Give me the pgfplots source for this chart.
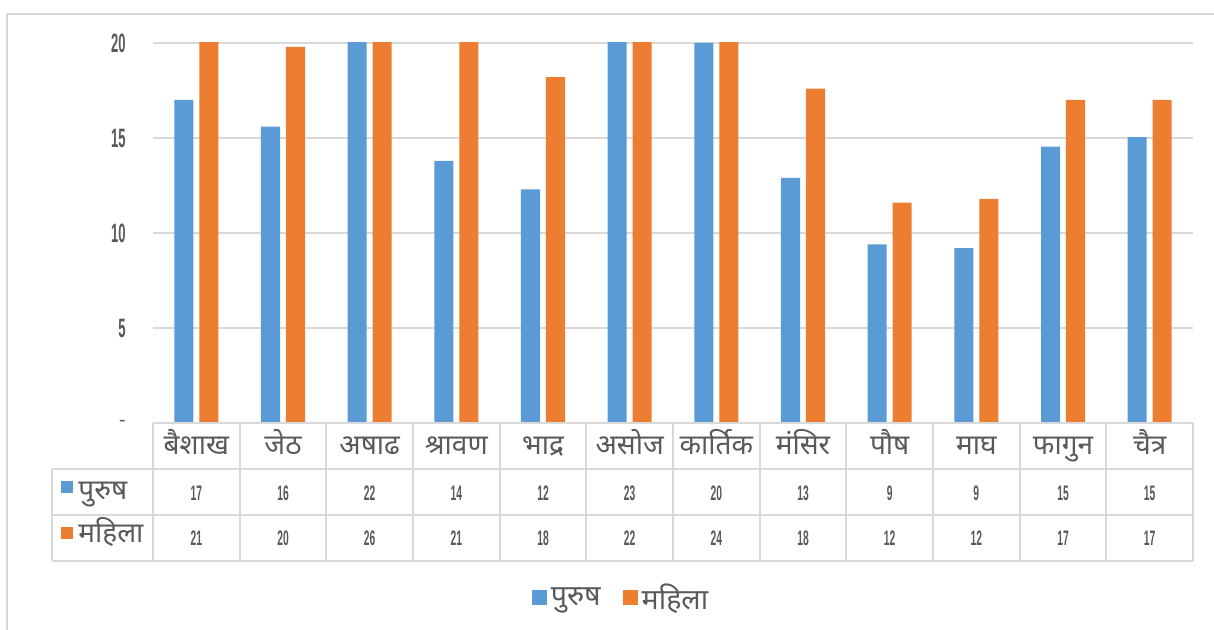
\documentclass[border=0pt]{standalone}
\usepackage{pgfplots}
\pgfplotsset{compat=1.18}
\usepackage{pgfplotstable}
\usepackage{fontspec}
\setmainfont{Noto Sans}
\newfontfamily\dev[Script=Devanagari]{Noto Sans}
\newfontfamily\numf{Liberation Sans}
\definecolor{cblue}{HTML}{5B9BD5}
\definecolor{corange}{HTML}{ED7D31}
\definecolor{txt}{HTML}{595959}
\definecolor{gridc}{HTML}{D9D9D9}
\newcommand\dg[2][13.3]{{\numf\bfseries\fontsize{#1}{#1}\selectfont\scalebox{0.49}[1]{#2}}}

\pgfplotstableread{
x blue orange
0 17.0 21
1 15.6 19.8
2 22 26
3 13.8 21
4 12.3 18.2
5 23 22
6 20 24
7 12.9 17.6
8 9.4 11.6
9 9.2 11.8
10 14.55 17
11 15.05 17
}\data

\begin{document}
\begin{tikzpicture}
\path[use as bounding box] (0,0) rectangle (607pt,315pt);
\draw[gridc, line width=1pt] (3.5pt,-2pt) -- (3.5pt,308pt) -- (610pt,308pt);

% bars
\begin{axis}[
  at={(76.5pt,103.5pt)}, anchor=south west,
  scale only axis, width=520pt, height=190pt,
  xmin=-0.5, xmax=11.5, ymin=0, ymax=20,
  axis line style={draw=none},
  ytick={0,5,10,15,20},
  yticklabels={-,\dg{5},\dg{10},\dg{15},\dg{20}},
  ymajorgrids, grid style={gridc, line width=0.75pt},
  major tick length=0pt,
  xtick={0,...,11},
  xticklabels={बैशाख,जेठ,अषाढ,श्रावण,भाद्र,असोज,कार्तिक,मंसिर,पौष,माघ,फागुन,चैत्र},
  xticklabel style={font=\dev\fontsize{14}{16}\selectfont, text=txt, anchor=base, yshift=-16pt, inner sep=0pt},
  yticklabel style={text=txt, anchor=east, inner sep=0pt, xshift=-13.5pt},
  bar width=0.22, clip=true,
  legend columns=2,
  legend style={at={(0.451,-0.46)}, anchor=center, draw=none, fill=none,
    font=\dev\fontsize{14.3}{16}\selectfont, text=txt,
    /tikz/every even column/.append style={column sep=9pt}},
  legend image code/.code={\fill[#1] (0pt,-3.75pt) rectangle (7.5pt,3.75pt);},
]
\addplot[ybar, bar shift=-0.144, fill=cblue, draw=none, forget plot] table[x=x,y=blue]{\data};
\addplot[ybar, bar shift=0.144, fill=corange, draw=none, forget plot] table[x=x,y=orange]{\data};
\addlegendimage{fill=cblue, draw=none}
\addlegendentry{पुरुष}
\addlegendimage{fill=corange, draw=none}
\addlegendentry{महिला}
\end{axis}

% data table
\begin{axis}[
  at={(76.5pt,103.5pt)}, anchor=south west,
  scale only axis, width=520pt, height=190pt,
  xmin=-0.5, xmax=11.5, ymin=0, ymax=20,
  axis lines=none, xtick=\empty, ytick=\empty, clip=false,
  nodes near coords={\dg[10.5]{\pgfmathprintnumber[fixed,precision=0,assume math mode=true]{\pgfplotspointmeta}}},
  nodes near coords align=center,
  nodes near coords style={anchor=center, text=txt, inner sep=0pt},
]
\draw[gridc, line width=1pt] (axis cs:-0.5,0) -- (axis cs:11.5,0);
\draw[gridc, line width=1pt] (axis cs:-1.665,-2.42) -- (axis cs:11.5,-2.42);
\draw[gridc, line width=1pt] (axis cs:-1.665,-4.84) -- (axis cs:11.5,-4.84);
\draw[gridc, line width=1pt] (axis cs:-1.665,-7.26) -- (axis cs:11.5,-7.26);
\draw[gridc, line width=1pt] (axis cs:-1.665,-2.42) -- (axis cs:-1.665,-7.26);
\draw[gridc, line width=1pt] (axis cs:-0.5,0) -- (axis cs:-0.5,-7.26);
\draw[gridc, line width=1pt] (axis cs:0.5,0) -- (axis cs:0.5,-7.26);
\draw[gridc, line width=1pt] (axis cs:1.5,0) -- (axis cs:1.5,-7.26);
\draw[gridc, line width=1pt] (axis cs:2.5,0) -- (axis cs:2.5,-7.26);
\draw[gridc, line width=1pt] (axis cs:3.5,0) -- (axis cs:3.5,-7.26);
\draw[gridc, line width=1pt] (axis cs:4.5,0) -- (axis cs:4.5,-7.26);
\draw[gridc, line width=1pt] (axis cs:5.5,0) -- (axis cs:5.5,-7.26);
\draw[gridc, line width=1pt] (axis cs:6.5,0) -- (axis cs:6.5,-7.26);
\draw[gridc, line width=1pt] (axis cs:7.5,0) -- (axis cs:7.5,-7.26);
\draw[gridc, line width=1pt] (axis cs:8.5,0) -- (axis cs:8.5,-7.26);
\draw[gridc, line width=1pt] (axis cs:9.5,0) -- (axis cs:9.5,-7.26);
\draw[gridc, line width=1pt] (axis cs:10.5,0) -- (axis cs:10.5,-7.26);
\draw[gridc, line width=1pt] (axis cs:11.5,0) -- (axis cs:11.5,-7.26);
\addplot[draw=none, point meta=\thisrow{blue}] table[x=x, y expr=-3.68]{\data};
\addplot[draw=none, point meta=\thisrow{orange}] table[x=x, y expr=-6.05]{\data};
\end{axis}

% row headers of the data table
\fill[cblue] (30.5pt,68.5pt) rectangle (36.5pt,74.5pt);
\node[anchor=base west, inner sep=0pt, text=txt, font=\dev\fontsize{14}{16}\selectfont] at (39pt,65pt) {पुरुष};
\fill[corange] (30.5pt,45.5pt) rectangle (36.5pt,51.5pt);
\node[anchor=base west, inner sep=0pt, text=txt, font=\dev\fontsize{14}{16}\selectfont] at (39pt,43.5pt) {महिला};
\end{tikzpicture}
\end{document}
